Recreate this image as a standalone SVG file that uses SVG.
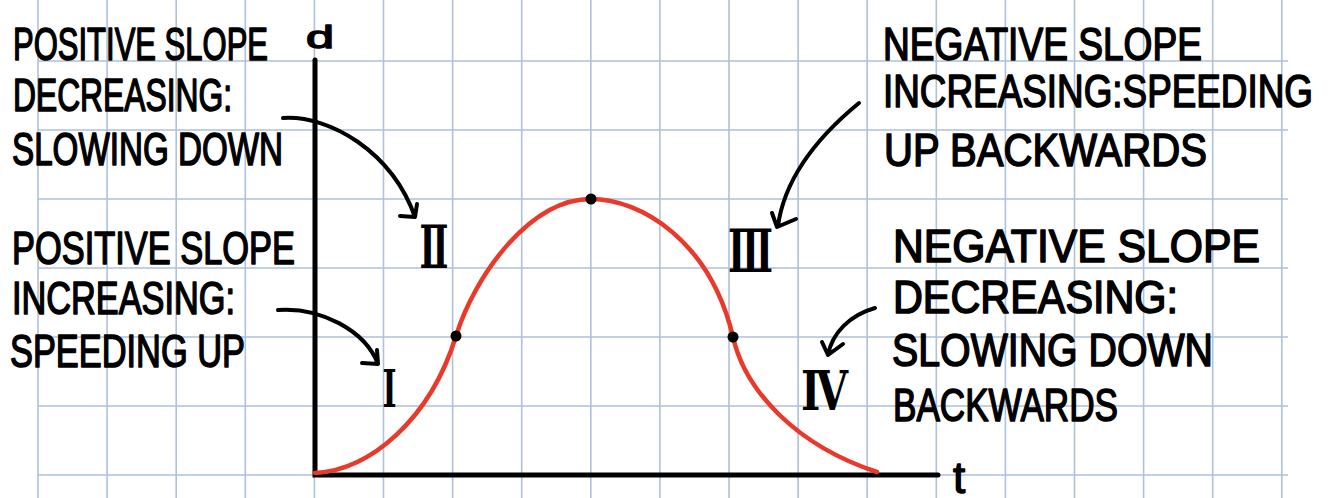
<svg xmlns="http://www.w3.org/2000/svg" width="1333" height="498" viewBox="0 0 1333 498">
<style>
.grid{stroke:#aec1dd;stroke-width:1.6;fill:none}
.axis{stroke:#000;stroke-width:5;stroke-linecap:round;fill:none}
.curve{stroke:#e8392a;stroke-width:4.5;stroke-linecap:round;stroke-linejoin:round;fill:none}
.conn{stroke:#000;stroke-width:4;stroke-linecap:round;stroke-linejoin:round;fill:none}
.lbl{font-family:"Liberation Sans",Arial,sans-serif;font-size:46px;fill:#000;stroke:#000;stroke-width:1.6;stroke-linejoin:round}
.rom{font-family:"DejaVu Serif","Noto Sans CJK JP",serif;font-weight:bold;fill:#000;text-anchor:middle}
.ax{font-family:"Liberation Sans",Arial,sans-serif;fill:#000;stroke:#000;stroke-width:1.4;stroke-linejoin:round}
</style>
<rect width="1333" height="498" fill="#fff"/>
<g id="grid">
<path class="grid" d="M38,0V498M107.1,0V498M176.2,0V498M245.3,0V498M314.4,0V498M383.5,0V498M452.6,0V498M521.7,0V498M590.8,0V498M659.9,0V498M729,0V498M798.1,0V498M867.2,0V498M936.3,0V498M1005.4,0V498M1074.5,0V498M1143.6,0V498M1212.7,0V498M1281.8,0V498"/>
<path class="grid" d="M38,61H1288M38,130H1288M38,199H1288M38,268H1288M38,337H1288M38,406H1288M38,475H1288"/>
</g>
<g id="axes">
<path class="axis" d="M315,60V475H938"/>
<text class="ax" x="306" y="48" font-size="32" textLength="28" lengthAdjust="spacingAndGlyphs">d</text>
<text class="ax" x="953" y="493" font-size="44">t</text>
</g>
<g id="curve">
<path class="curve" d="M315,473C370,470 430,420 456,336C475,275 530,199 591,199C640,199 710,240 733,337C745,390 795,445 877,472"/>
<circle cx="456" cy="336" r="5.5" fill="#000"/>
<circle cx="591" cy="199" r="5.5" fill="#000"/>
<circle cx="733" cy="337" r="5.5" fill="#000"/>
</g>
<g id="connectors">
<path class="conn" d="M283,118C330,115 392,152 415,217M417,204L415,217L400,216"/>
<path class="conn" d="M278,310C320,307 365,330 378,364M377,350L378,364L362,363"/>
<path class="conn" d="M859,103C820,135 785,175 778,226M772,213L777,227L796,219"/>
<path class="conn" d="M875,308C850,315 832,333 828,355M822,342L828,355L843,344"/>
</g>
<g id="label-tl">
<text class="lbl" x="13" y="60" textLength="255" lengthAdjust="spacingAndGlyphs">POSITIVE SLOPE</text>
<text class="lbl" x="13" y="111" textLength="219" lengthAdjust="spacingAndGlyphs">DECREASING:</text>
<text class="lbl" x="12" y="165" textLength="271" lengthAdjust="spacingAndGlyphs">SLOWING DOWN</text>
</g>
<g id="label-bl">
<text class="lbl" x="12" y="264" font-size="49" textLength="283" lengthAdjust="spacingAndGlyphs">POSITIVE SLOPE</text>
<text class="lbl" x="12" y="314" font-size="47" textLength="223" lengthAdjust="spacingAndGlyphs">INCREASING:</text>
<text class="lbl" x="10" y="367" textLength="235" lengthAdjust="spacingAndGlyphs">SPEEDING UP</text>
</g>
<g id="label-tr">
<text class="lbl" x="883" y="60" textLength="319" lengthAdjust="spacingAndGlyphs">NEGATIVE SLOPE</text>
<text class="lbl" x="883" y="107" font-size="48" textLength="430" lengthAdjust="spacingAndGlyphs">INCREASING:SPEEDING</text>
<text class="lbl" x="884" y="166" font-size="48" textLength="323" lengthAdjust="spacingAndGlyphs">UP BACKWARDS</text>
</g>
<g id="label-br">
<text class="lbl" x="893" y="262" font-size="47" textLength="367" lengthAdjust="spacingAndGlyphs">NEGATIVE SLOPE</text>
<text class="lbl" x="893" y="313" textLength="285" lengthAdjust="spacingAndGlyphs">DECREASING:</text>
<text class="lbl" x="892" y="366" font-size="48" textLength="321" lengthAdjust="spacingAndGlyphs">SLOWING DOWN</text>
<text class="lbl" x="893" y="421" font-size="50" textLength="225" lengthAdjust="spacingAndGlyphs">BACKWARDS</text>
</g>
<g id="numeral-1"><text class="rom" x="389.5" y="407" font-size="52" textLength="14" lengthAdjust="spacingAndGlyphs">Ⅰ</text></g>
<g id="numeral-2"><text class="rom" x="434" y="268" font-size="60" textLength="29" lengthAdjust="spacingAndGlyphs">Ⅱ</text></g>
<g id="numeral-3"><text class="rom" x="750.5" y="272" font-size="60" textLength="45" lengthAdjust="spacingAndGlyphs">Ⅲ</text></g>
<g id="numeral-4"><text class="rom" x="824.5" y="410" font-size="54" textLength="47" lengthAdjust="spacingAndGlyphs">Ⅳ</text></g>
</svg>
